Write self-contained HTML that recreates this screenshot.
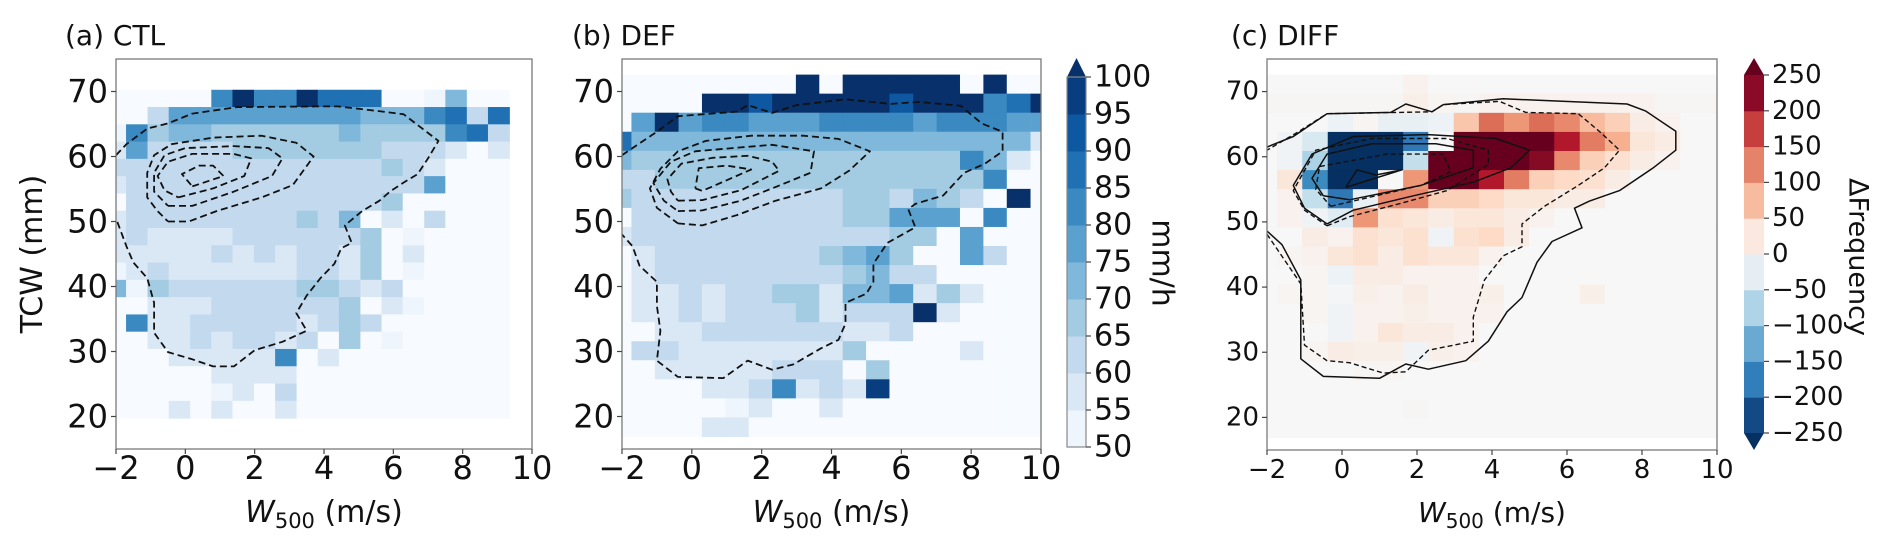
<!DOCTYPE html>
<html><head><meta charset="utf-8"><title>TCW vs W500 panels</title>
<style>html,body{margin:0;padding:0;background:#fff;}svg{display:block;font-family:"DejaVu Sans","Liberation Sans",sans-serif;}</style>
</head><body>
<svg id="fig" width="1892" height="550" viewBox="0 0 1892 550" xmlns="http://www.w3.org/2000/svg">
<defs>
<clipPath id="clipA"><rect x="116" y="59" width="416" height="390"/></clipPath>
<clipPath id="clipB"><rect x="622" y="59" width="419" height="390"/></clipPath>
<clipPath id="clipC"><rect x="1267" y="59" width="450" height="391"/></clipPath>
</defs>
</svg>
<script>
// ---------- data ----------
const xTicks = [-2, 0, 2, 4, 6, 8, 10];
const yTicks = [20, 30, 40, 50, 60, 70];
const cbarLevelsB = [50, 55, 60, 65, 70, 75, 80, 85, 90, 95, 100];
const cbarLevelsC = [-250, -200, -150, -100, -50, 0, 50, 100, 150, 200, 250];
// bin edges (data units)
const xEdgesA = [-2.32,-1.71,-1.09,-0.48,0.14,0.75,1.36,1.98,2.59,3.21,3.82,4.43,5.05,5.66,6.27,6.89,7.50,8.12,8.73,9.35];
const yEdgesA = [70.27,67.61,64.95,62.29,59.64,56.98,54.32,51.66,49.00,46.34,43.68,41.02,38.36,35.70,33.05,30.39,27.73,25.07,22.41,19.73];
const xEdgesBC = [-2.40,-1.73,-1.06,-0.38,0.29,0.96,1.63,2.30,2.98,3.65,4.32,4.99,5.66,6.34,7.01,7.68,8.35,9.02,9.70,10.37];
const yEdgesBC = [72.6,69.67,66.74,63.81,60.88,57.95,55.02,52.09,49.16,46.23,43.30,40.37,37.44,34.51,31.58,28.65,25.72,22.79,19.86,16.9];
// panel (a) CTL mean rain rate (mm/h), rows top->bottom
const ctlRows = [
[48,48,48,48,48,80,100,80,80,100,85,85,88,48,48,52,72,48,48],
[48,48,60,75,75,78,78,78,76,75,75,75,74,73,74,80,85,60,85],
[50,82,68,70,70,68,68,68,68,68,68,70,68,68,68,68,80,88,62],
[56,78,64,64,64,64,65,65,65,65,65,65,65,60,62,62,55,48,58],
[60,64,63,62,62,62,62,63,63,63,63,64,64,65,60,58,48,48,48],
[56,62,62,62,62,62,62,62,61,61,62,60,62,62,62,78,48,48,48],
[48,62,60,60,60,60,60,60,62,62,62,64,60,68,48,48,48,48,48],
[58,60,60,60,60,60,62,62,60,68,62,72,48,58,48,62,48,48,48],
[55,60,58,58,58,58,60,60,60,62,62,62,68,48,53,48,48,48,48],
[55,58,58,58,58,60,58,62,58,62,60,56,68,48,57,48,48,48,48],
[52,55,60,58,58,58,58,58,56,62,62,58,68,48,54,48,48,48,48],
[72,52,66,60,60,62,62,62,64,66,66,64,58,60,48,48,48,48,48],
[48,48,55,58,58,60,60,60,60,60,62,66,48,58,52,48,48,48,48],
[48,82,55,58,60,62,60,60,62,58,62,66,62,48,48,48,48,48,48],
[48,48,58,58,62,58,60,62,58,62,48,66,48,52,48,48,48,48,48],
[48,48,48,58,58,56,58,56,80,48,55,48,48,48,48,48,48,48,48],
[48,48,48,48,48,55,56,55,55,48,48,48,48,48,48,48,48,48,48],
[48,48,48,48,48,52,57,48,62,48,48,48,48,48,48,48,48,48,48],
[48,48,48,56,48,55,48,48,55,48,48,48,48,48,48,48,48,48,48]
];
// panel (b) DEF
const defRows = [
[48,48,48,48,48,48,48,48,100,48,100,100,100,100,100,48,100,48,48],
[48,48,48,48,100,100,90,100,100,100,100,100,90,100,100,100,82,88,100],
[48,78,100,75,80,80,78,78,78,80,80,80,80,78,80,80,80,78,78],
[88,72,72,72,72,72,72,72,72,72,72,72,72,72,72,72,72,72,55],
[72,68,68,68,68,68,68,68,68,68,68,68,68,66,68,80,70,57,48],
[64,64,66,66,66,66,66,66,66,66,66,66,66,66,66,66,80,48,48],
[68,60,64,64,64,64,64,64,64,64,68,66,60,72,68,60,48,100,48],
[48,60,62,62,62,62,62,62,62,62,68,66,75,78,78,48,80,48,48],
[57,60,62,62,62,62,62,62,62,62,62,62,66,68,48,78,48,48,48],
[48,58,60,62,62,62,62,62,62,68,74,78,68,48,48,78,64,48,48],
[48,57,62,62,62,62,62,62,62,62,68,70,62,62,48,48,48,48,48],
[48,57,55,62,58,60,60,68,68,58,70,70,75,55,68,55,48,48,48],
[48,55,58,64,58,60,62,64,66,58,62,62,62,100,55,48,48,48,48],
[48,48,58,56,60,60,60,60,60,62,58,56,64,48,48,48,48,48,48],
[48,62,60,56,58,58,56,58,58,58,68,48,48,48,48,58,48,48,48],
[48,48,56,58,58,56,58,60,62,64,48,68,48,48,48,48,48,48,48],
[48,48,48,48,57,56,60,80,57,60,57,98,48,48,48,48,48,48,48],
[48,48,48,48,48,53,57,48,48,55,48,48,48,48,48,48,48,48,48],
[48,48,48,48,58,55,48,48,48,48,48,48,48,48,48,48,48,48,48]
];
// panel (c) DIFF frequency
const diffRows = [
[0,0,0,0,0,0,10,0,0,0,0,0,0,0,0,0,0,0,0],
[3,3,3,3,3,3,15,5,3,10,10,10,10,10,10,10,3,3,3],
[0,0,0,-15,5,-20,-20,-15,70,140,110,140,120,80,60,20,10,0,0],
[0,-10,-40,-260,-260,-260,-180,0,260,260,260,260,200,130,90,30,20,0,0],
[0,-10,-80,-260,-260,-260,-60,260,260,260,260,230,120,60,40,20,10,0,0],
[0,30,-160,-260,-260,0,110,260,260,200,130,60,50,40,20,0,0,0,0],
[0,10,-60,-180,-20,120,120,60,60,50,30,30,20,20,0,0,0,0,0],
[0,10,-10,-30,110,40,30,20,30,30,20,10,0,0,0,0,0,0,0],
[0,0,20,10,40,30,40,-10,40,50,20,0,0,0,0,0,0,0,0],
[0,5,10,30,40,20,40,30,30,10,0,0,0,0,0,0,0,0,0],
[0,0,5,-15,20,20,10,10,10,0,0,0,0,0,0,0,0,0,0],
[0,5,5,-5,15,10,20,10,10,15,0,0,0,15,0,0,0,0,0],
[0,0,5,-10,10,10,15,10,10,10,0,0,0,0,0,0,0,0,0],
[0,0,0,-10,10,30,20,20,10,0,0,0,0,0,0,0,0,0,0],
[0,0,5,20,15,15,-10,15,10,0,0,0,0,0,0,0,0,0,0],
[0,0,0,0,3,5,0,0,0,0,0,0,0,0,0,0,0,0,0],
[0,0,0,0,0,0,0,0,0,0,0,0,0,0,0,0,0,0,0],
[0,0,0,0,0,0,3,0,0,0,0,0,0,0,0,0,0,0,0],
[0,0,0,0,0,0,0,0,0,0,0,0,0,0,0,0,0,0,0]
];
// contours [x, y] in data units
const ctlContours = [
[[-2,60.2],[-1.7,61.9],[-1.1,64.3],[-0.5,65.1],[0.2,66.6],[1.5,67.6],[3.8,67.7],[4.4,67.7],[5.7,66.9],[6.3,66.5],[7.3,62.4],[7.0,59.7],[6.7,57.3],[6.3,56.0],[5.9,54.6],[5.6,53.2],[5.1,51.6],[4.6,49.4],[4.8,46.7],[4.5,45.9],[4.3,43.5],[3.9,41.3],[3.5,38.6],[3.2,35.9],[3.5,33.2],[2.8,31.5],[2.0,30.2],[1.4,27.7],[0.8,27.7],[0.2,28.8],[-0.5,29.9],[-0.9,32.9],[-0.9,37.5],[-1.1,41.3],[-1.5,43.7],[-1.7,46.2],[-2,50.5]],
[[-0.5,50],[0.1,50],[0.9,51.6],[2.2,53.7],[3.1,55.6],[3.7,60],[3.2,62.1],[2.2,63.2],[0.8,62.9],[-0.4,61.9],[-0.9,60.2],[-1.1,57.5],[-1.1,53.7],[-0.8,51.6],[-0.5,50]],
[[-0.5,52.4],[0.2,52.4],[1.4,54.6],[2.5,57],[2.8,59.7],[2.4,61.3],[1.4,61.6],[0.0,61.3],[-0.6,60.2],[-0.9,57.5],[-0.9,54.6],[-0.5,52.4]],
[[-0.2,53.7],[0.8,55.1],[1.7,57],[1.9,59.7],[1.4,60.4],[0.2,60.4],[-0.5,59.2],[-0.8,57],[-0.6,54.8],[-0.2,53.7]],
[[0.2,55.4],[1.1,57],[0.8,58.6],[0.4,58.6],[-0.1,57.3],[0.2,55.4]]
];
const defContours = [
[[-2,60.2],[-1.7,61.3],[-1.0,63.8],[-0.4,66.2],[1.3,66.9],[1.6,67.9],[2.3,66.7],[3.0,67.9],[4.4,68.8],[5.7,68.1],[6.5,68.4],[7.7,67.8],[8.3,65.1],[8.9,63.8],[8.9,60.8],[8.4,58.9],[7.8,57.5],[7.2,54],[6.4,52.7],[6.2,51.9],[6.4,49.1],[5.6,46.7],[5.2,43.5],[5.2,40.7],[5.0,38.9],[4.4,37.5],[4.4,34.3],[4.2,31.8],[3.7,30.5],[2.9,28],[2.3,27.2],[1.6,28.6],[0.9,25.9],[-0.4,26.1],[-1.0,28.6],[-0.9,33.2],[-1.0,37],[-1.0,40.7],[-1.5,43.2],[-1.7,46.2],[-2,48]],
[[-0.4,49.7],[0.3,49.4],[1.3,51],[2.4,53.2],[3.7,55.1],[4.5,57.8],[5.1,60.8],[4.2,62.7],[3.2,63.2],[1.7,63.2],[0.4,62.4],[-0.4,60.8],[-0.9,58.1],[-1.2,55.1],[-1.0,52.1],[-0.4,49.7]],
[[-0.4,51.6],[0.3,51.7],[1.4,53.2],[2.3,55.1],[3.4,57.5],[3.5,60.8],[2.3,61.8],[1.4,61.4],[0.1,60.8],[-0.6,59.2],[-1.1,55.9],[-0.8,53.2],[-0.4,51.6]],
[[-0.4,53.2],[0.3,53.3],[1.4,54.8],[2.5,57.8],[2.3,59.2],[1.6,60.1],[0.6,59.8],[-0.3,58.9],[-0.7,56.5],[-0.6,54.6],[-0.4,53.2]],
[[0.1,55.1],[0.3,54.7],[1.7,58],[1.0,58.6],[0.2,58.2],[0.1,55.1]]
];
const diffSolid = [
[[-2,48.6],[-1.6,46.5],[-1.1,41.1],[-1.1,29],[-0.5,26.3],[1.0,26],[1.7,28.2],[2.3,27.4],[3.3,28.7],[3.9,31.7],[4.4,36.2],[4.8,38.4],[5.2,43.8],[5.6,47],[6.4,49.1],[6.2,52.1],[6.6,53.2],[7.4,54.8],[8.3,58.3],[8.9,61],[8.9,63.9],[8.1,67],[7.6,68.1],[4.3,68.9],[2.7,68],[2.4,66.9],[1.7,68.1],[1.3,66.8],[-0.4,66.6],[-1.3,63.1],[-2,61.5]],
[[-0.4,49.7],[0.3,51.8],[1.9,54],[3.5,56.1],[4.5,58.3],[5.0,61],[4.1,62.8],[2.3,63.4],[0.3,63.1],[-0.8,60.4],[-1.3,55.6],[-1.0,52.1],[-0.4,49.7]],
[[-0.5,54],[0.2,53.4],[2.1,55.6],[3.5,58.3],[3.5,61],[2.5,62],[0.8,62],[-0.4,60.4],[-0.8,56.7],[-0.5,54]],
[[0.1,55.3],[1.6,58],[0.9,57.2],[0.4,58],[0.1,55.3]]
];
const diffDashed = [
[[-2,48.1],[-1.1,40.5],[-1.0,31.1],[-0.4,28.7],[0.2,28.4],[1.1,26.8],[1.7,27],[2.3,30.3],[3.5,31.7],[3.5,35.4],[3.8,41.1],[4.3,44.8],[4.8,46.2],[4.8,49.7],[5.4,52.4],[6.3,55.6],[7.0,58.3],[7.4,61],[6.9,63.7],[6.3,66.6],[4.9,66.8],[4.2,68.5],[2.7,68],[2.4,66.9],[-0.4,66.6],[-1.2,63.7],[-2,61]],
[[-0.4,49.4],[0.2,50.8],[1.6,52.9],[2.8,54.8],[3.9,58.8],[3.9,61],[2.8,62.8],[0.8,62.8],[-0.7,61],[-1.3,54.8],[-1.0,51.8],[-0.4,49.4]],
[[-0.3,52.4],[2.1,55.6],[2.9,57.7],[2.7,60.4],[1.2,60.4],[-0.6,58.5],[-0.7,55],[-0.3,52.4]]
];

// ---------- colour helpers ----------
const bluesBins = ['#eef5fc','#dae8f5','#c3d9ee','#a3cce3','#7fb8da','#5aa1d0','#3a89c1','#2070b4','#0d58a0','#083d7f'];
const bluesOver = '#08306b', bluesUnder = '#f7fbff';
function bluesColor(v){
  if (v < 50) return bluesUnder;
  if (v >= 100) return bluesOver;
  return bluesBins[Math.floor((v-50)/5)];
}
const rdbuStops = ['#053061','#2166ac','#4393c3','#92c5de','#d1e5f0','#f7f7f7','#fddbc7','#f4a582','#d6604d','#b2182b','#67001f'];
function hex2rgb(h){return [parseInt(h.substr(1,2),16),parseInt(h.substr(3,2),16),parseInt(h.substr(5,2),16)];}
function rdbu(t){
  t = Math.max(0, Math.min(1, t));
  const p = t*10, i = Math.min(9, Math.floor(p)), f = p - i;
  const a = hex2rgb(rdbuStops[i]), b = hex2rgb(rdbuStops[i+1]);
  return 'rgb(' + a.map((c,k)=>Math.round(c+(b[k]-c)*f)).join(',') + ')';
}
const cbarColorsC = ['#134a86','#327ebb','#6aaad2','#b0d4e7','#e6eef4','#fbe8df','#f7bba0','#e5826a','#c63e3e','#8b0a27'];

const svg = document.getElementById('fig');
const NS = 'http://www.w3.org/2000/svg';
function el(tag, attrs, parent){
  const e = document.createElementNS(NS, tag);
  for (const k in attrs) e.setAttribute(k, attrs[k]);
  (parent || svg).appendChild(e);
  return e;
}

function makeAxes(cfg){
  const sx = v => cfg.x0 + (v - cfg.xmin) / (cfg.xmax - cfg.xmin) * (cfg.x1 - cfg.x0);
  const sy = v => cfg.y1 - (v - cfg.ymin) / (cfg.ymax - cfg.ymin) * (cfg.y1 - cfg.y0);
  const g = el('g', {});
  
  
  const hm = el('g', {'clip-path': 'url(#' + cfg.clip + ')'}, g);
  
  
  cfg.rows.forEach((row, r) => {
    row.forEach((v, c) => {
      const xa = sx(cfg.xEdges[c]), xb = sx(cfg.xEdges[c+1]);
      const ya = sy(cfg.yEdges[r]), yb = sy(cfg.yEdges[r+1]);
      const rect = el('rect', {x: xa.toFixed(2), y: ya.toFixed(2), width: (xb-xa+0.4).toFixed(2), height: (yb-ya+0.4).toFixed(2), fill: cfg.color(v)}, hm);
      
      
    });
  });
  const cg = el('g', {'clip-path': 'url(#' + cfg.clip + ')', fill: 'none', stroke: '#111'}, g);
  
  
  cfg.contours.forEach(set => {
    set.lines.forEach(line => {
      const d = line.map((p,i) => (i ? 'L' : 'M') + sx(p[0]).toFixed(1) + ',' + sy(p[1]).toFixed(1)).join('');
      const path = el('path', {d: d, 'stroke-width': set.width, 'stroke-dasharray': set.dash, 'stroke-linejoin': 'round'}, cg);
      
      
    });
  });
  const frame = el('rect', {x: cfg.x0, y: cfg.y0, width: cfg.x1-cfg.x0, height: cfg.y1-cfg.y0, fill: 'none', stroke: '#7a7a7a', 'stroke-width': 1.3}, g);
  
  
  xTicks.forEach(t => {
    const x = sx(t);
    el('line', {x1: x, x2: x, y1: cfg.y1, y2: cfg.y1 + 5, stroke: '#444', 'stroke-width': 1.2}, g);
    const lab = el('text', {x: x, y: cfg.y1 + cfg.xtickDy, 'font-size': cfg.tickFont, 'text-anchor': 'middle', fill: '#111'}, g);
    lab.textContent = (t < 0 ? '\u2212' + Math.abs(t) : String(t));
    
    
  });
  yTicks.forEach(t => {
    const y = sy(t);
    el('line', {x1: cfg.x0 - 5, x2: cfg.x0, y1: y, y2: y, stroke: '#444', 'stroke-width': 1.2}, g);
    const lab = el('text', {x: cfg.x0 - 8, y: y, 'font-size': cfg.tickFont, 'text-anchor': 'end', 'dominant-baseline': 'central', fill: '#111'}, g);
    lab.textContent = String(t);
    
    
  });
  const title = el('text', {x: cfg.titleX, y: 45, 'font-size': 28, fill: '#111'}, g);
  title.textContent = cfg.title;
  
  
  const xl = el('text', {x: (cfg.x0 + cfg.x1)/2, y: 522, 'font-size': cfg.xlabFont, 'text-anchor': 'middle', fill: '#111'}, g);
  xl.innerHTML = '<tspan font-style="italic">W</tspan><tspan font-size="' + Math.round(cfg.xlabFont*0.7) + '" dy="6">500</tspan><tspan dy="-6"> (m/s)</tspan>';
  
  
}

makeAxes({name:'panel-a-ctl', clip:'clipA', x0:116, x1:532, y0:59, y1:449, xmin:-2, xmax:10, ymin:15, ymax:75,
  rows: ctlRows, xEdges: xEdgesA, yEdges: yEdgesA, color: bluesColor,
  contours: [{kind:'ctl-contour', lines: ctlContours, width: 1.8, dash: '7,4'}],
  tickFont: 32, xtickDy: 30, xlabFont: 30, title: '(a) CTL', titleX: 65});
makeAxes({name:'panel-b-def', clip:'clipB', x0:622, x1:1041, y0:59, y1:449, xmin:-2, xmax:10, ymin:15, ymax:75,
  rows: defRows, xEdges: xEdgesBC, yEdges: yEdgesBC, color: bluesColor,
  contours: [{kind:'def-contour', lines: defContours, width: 1.8, dash: '7,4'}],
  tickFont: 32, xtickDy: 30, xlabFont: 30, title: '(b) DEF', titleX: 572});
makeAxes({name:'panel-c-diff', clip:'clipC', x0:1267, x1:1717, y0:59, y1:450, xmin:-2, xmax:10, ymin:15, ymax:75,
  rows: diffRows, xEdges: xEdgesBC, yEdges: yEdgesBC, color: v => rdbu((v + 250) / 500),
  contours: [{kind:'def-contour-solid', lines: diffSolid, width: 1.5, dash: 'none'},
             {kind:'ctl-contour-dashed', lines: diffDashed, width: 1.4, dash: '5,3'}],
  tickFont: 26, xtickDy: 28, xlabFont: 28, title: '(c) DIFF', titleX: 1231});

const yt = el('text', {x: 0, y: 0, 'font-size': 30, 'text-anchor': 'middle', fill: '#111', transform: 'translate(42,254) rotate(-90)'});
yt.textContent = 'TCW (mm)';



function colorbar(cfg){
  const g = el('g', {});
  
  
  const n = cfg.levels.length - 1;
  const h = (cfg.bot - cfg.top) / n;
  for (let i = 0; i < n; i++){
    const r = el('rect', {x: cfg.x, y: (cfg.bot - (i+1)*h).toFixed(2), width: cfg.w, height: (h+0.5).toFixed(2), fill: cfg.colors[i]}, g);
    
    
  }
  el('polygon', {points: cfg.x + ',' + cfg.top + ' ' + (cfg.x+cfg.w) + ',' + cfg.top + ' ' + (cfg.x+cfg.w/2) + ',' + cfg.tipTop, fill: cfg.overColor}, g);
  if (cfg.tipBot) el('polygon', {points: cfg.x + ',' + cfg.bot + ' ' + (cfg.x+cfg.w) + ',' + cfg.bot + ' ' + (cfg.x+cfg.w/2) + ',' + cfg.tipBot, fill: cfg.underColor}, g);
  if (!cfg.tipBot) el('rect', {x: cfg.x, y: cfg.top, width: cfg.w, height: cfg.bot-cfg.top, fill: 'none', stroke: '#888', 'stroke-width': 1.2}, g);
  cfg.levels.forEach((lv, i) => {
    const y = cfg.bot - i*h;
    el('line', {x1: cfg.x+cfg.w, x2: cfg.x+cfg.w+5, y1: y, y2: y, stroke: '#444', 'stroke-width': 1.2}, g);
    const t = el('text', {x: cfg.x + cfg.w + 8, y: y, 'font-size': cfg.font, 'dominant-baseline': 'central', fill: '#111'}, g);
    t.textContent = lv < 0 ? '\u2212' + Math.abs(lv) : String(lv);
    
    
  });
  const lab = el('text', {x: 0, y: 0, 'font-size': cfg.labFont, 'text-anchor': 'middle', 'dominant-baseline': 'central', fill: '#111', transform: 'translate(' + cfg.labX + ',' + cfg.labY + ') rotate(90)'}, g);
  lab.textContent = cfg.label;
  
  
}
colorbar({name:'colorbar-rain-rate', x:1067, w:19, top:77, bot:447, tipTop:58, tipBot:null, levels: cbarLevelsB,
  colors: bluesBins, overColor: bluesOver, font: 30, label: 'mm/h', labFont: 30, labX: 1162, labY: 263});
colorbar({name:'colorbar-diff', x:1744, w:20, top:75, bot:433, tipTop:58, tipBot:450, levels: cbarLevelsC,
  colors: cbarColorsC, overColor: '#67001f', underColor: '#053061', font: 26, label: '\u0394Frequency', labFont: 27, labX: 1858, labY: 257});
</script>
</body></html>
